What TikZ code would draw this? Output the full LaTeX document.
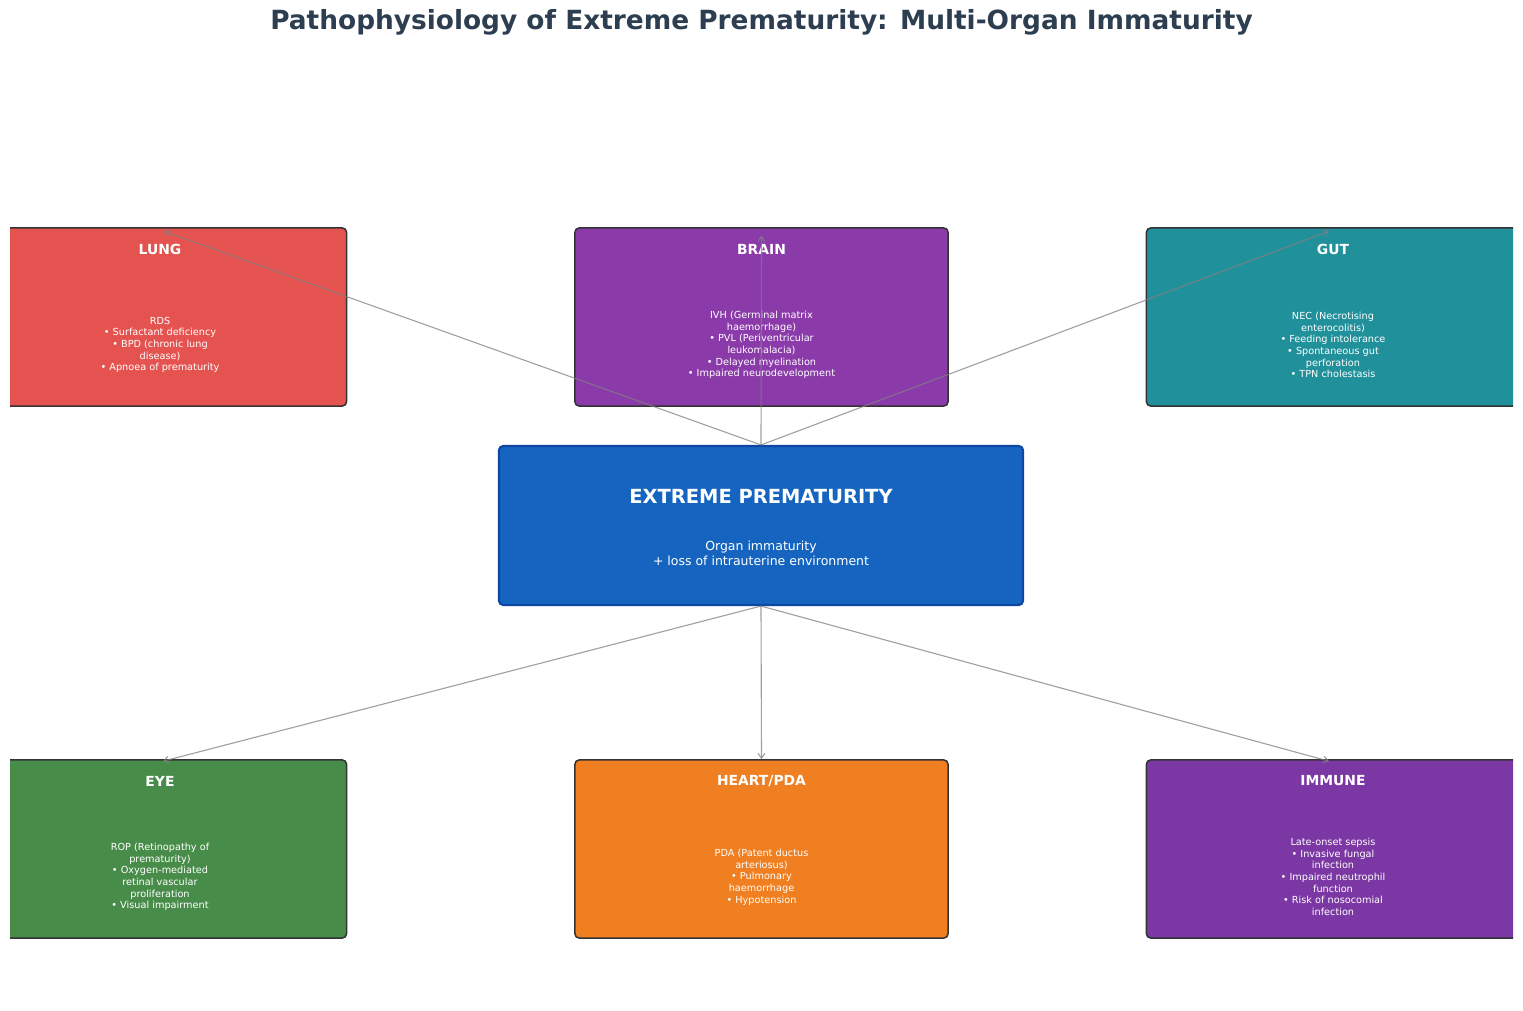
\documentclass[tikz,border=0pt]{standalone}
\usepackage{fontspec}
\setmainfont{DejaVu Sans}
\usetikzlibrary{arrows.meta}
\definecolor{titlec}{HTML}{2C3E50}
\definecolor{lungc}{RGB}{229,83,80}
\definecolor{brainc}{RGB}{139,58,170}
\definecolor{gutc}{RGB}{32,144,155}
\definecolor{eyec}{RGB}{72,140,74}
\definecolor{heartc}{RGB}{239,127,32}
\definecolor{immunec}{RGB}{123,55,163}
\definecolor{centc}{HTML}{1565C0}
\definecolor{centb}{HTML}{0D47A1}
\definecolor{edgec}{RGB}{51,51,51}
\tikzset{
  organ/.style={draw=edgec, line width=1.1pt, rounded corners=3pt, minimum width=268.6pt, minimum height=128.2pt, inner sep=0pt},
  centbox/.style={draw=centb, fill=centc, line width=1.5pt, rounded corners=3pt, minimum width=377.3pt, minimum height=114.5pt, inner sep=0pt},
  otitle/.style={text=white, font=\bfseries\fontsize{10}{12}\selectfont, inner sep=0pt},
  obody/.style={text=white, align=center, font=\fontsize{7}{8.4}\selectfont, inner sep=0pt},
  arr/.style={draw=gray, opacity=0.75, line width=0.8pt, -{Straight Barb[length=3.5pt,width=5pt]}}
}
\begin{document}
\begin{tikzpicture}[x=0.72pt,y=-0.72pt]
\useasboundingbox (0,0) rectangle (1523,1011);
\node[text=titlec, font=\bfseries\fontsize{19}{22}\selectfont] (title) at (761.5,22) {Pathophysiology of Extreme Prematurity: Multi-Organ Immaturity};
\begin{scope}
\clip (10,0) rectangle (1513,1011);
\node[organ, fill=lungc] (lung) at (160,317) {};
\node[organ, fill=brainc] (brain) at (761.5,317) {};
\node[organ, fill=gutc] (gut) at (1333,317) {};
\node[organ, fill=eyec] (eye) at (160,849) {};
\node[organ, fill=heartc] (heart) at (761.5,849) {};
\node[organ, fill=immunec] (immune) at (1333,849) {};
\node[centbox] (cent) at (761,525.5) {};
\end{scope}
% titles
\node[otitle] (lungt) at (160,249) {LUNG};
\node[otitle] (braint) at (761.5,249) {BRAIN};
\node[otitle] (gutt) at (1333,249) {GUT};
\node[otitle] (eyet) at (160,781) {EYE};
\node[otitle] (heartt) at (761.5,781) {HEART/PDA};
\node[otitle] (immunet) at (1333,781) {IMMUNE};
% bodies
\node[obody] (lungb) at (160,345) {RDS\\• Surfactant deficiency\\• BPD (chronic lung\\disease)\\• Apnoea of prematurity};
\node[obody] (brainb) at (761.5,345) {IVH (Germinal matrix\\haemorrhage)\\• PVL (Periventricular\\leukomalacia)\\• Delayed myelination\\• Impaired neurodevelopment};
\node[obody] (gutb) at (1333,345) {NEC (Necrotising\\enterocolitis)\\• Feeding intolerance\\• Spontaneous gut\\perforation\\• TPN cholestasis};
\node[obody] (eyeb) at (160,877) {ROP (Retinopathy of\\prematurity)\\• Oxygen-mediated\\retinal vascular\\proliferation\\• Visual impairment};
\node[obody] (heartb) at (761.5,877) {PDA (Patent ductus\\arteriosus)\\• Pulmonary\\haemorrhage\\• Hypotension};
\node[obody] (immuneb) at (1333,877) {Late-onset sepsis\\• Invasive fungal\\infection\\• Impaired neutrophil\\function\\• Risk of nosocomial\\infection};
% centre text
\node[text=white, font=\bfseries\fontsize{14}{16}\selectfont, inner sep=0pt] (centt) at (761,497) {EXTREME PREMATURITY};
\node[text=white, align=center, font=\fontsize{9}{10.8}\selectfont, inner sep=0pt] (centb) at (761,553.5) {Organ immaturity\\+ loss of intrauterine environment};
% arrows
\draw[arr] (cent.north) -- ([shift={(4,4)}]lung.north);
\draw[arr] (cent.north) -- ([yshift=-6pt]brain.north);
\draw[arr] (cent.north) -- ([shift={(-4,4)}]gut.north);
\draw[arr] (cent.south) -- ([shift={(3,2)}]eye.north);
\draw[arr] (cent.south) -- (heart.north);
\draw[arr] (cent.south) -- ([shift={(-4,2)}]immune.north);
\end{tikzpicture}
\end{document}
